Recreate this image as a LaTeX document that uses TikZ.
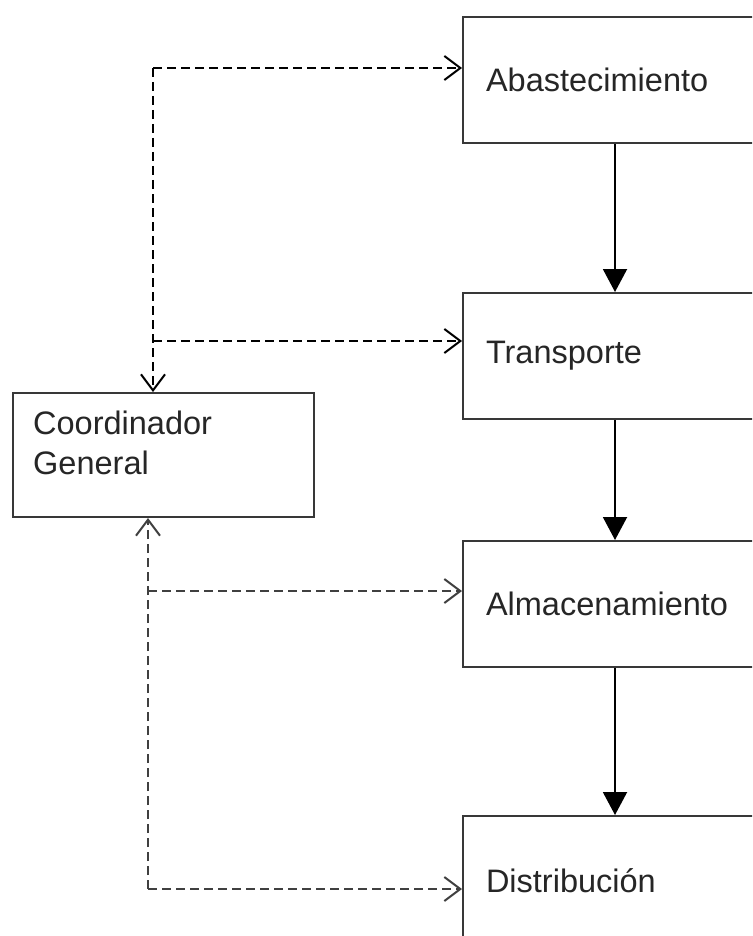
\documentclass[tikz,border=0pt]{standalone}
\usepackage{fontspec}
\setmainfont{Liberation Sans}
\usetikzlibrary{arrows.meta}

\begin{document}
\begin{tikzpicture}[x=1pt,y=-1pt,
  caja/.style={draw=black!78, line width=2pt, fill=white, anchor=north west,
    minimum width=340pt, minimum height=126pt, inner xsep=23pt,
    text width=294pt, align=left, text=black!85,
    font=\fontsize{32.5}{40}\selectfont},
  flecha/.style={draw=black, line width=2pt, -{Triangle[length=23pt,width=24pt]}},
  enlace/.style={line width=2.8pt, dash pattern=on 9pt off 5pt,
    -{Straight Barb[length=16pt,width=24pt,line width=2pt]}}]
\useasboundingbox (0,0) rectangle (752,936);
\clip (0,0) rectangle (752,936);
\node[caja] (abast) at (462,16) {Abastecimiento};
\node[caja] (trans) at (462,292) {Transporte};
\node[caja] (alm) at (462,540) {Almacenamiento};
\node[caja, minimum height=130pt] (dist) at (462,815) {Distribución};
\node[caja, minimum width=301pt, minimum height=124pt, text width=255pt] (coord) at (12,392) {};
\node[anchor=north west, inner sep=0pt, align=left, text=black!85,
  font=\fontsize{32.5}{40}\selectfont] (coordtxt) at (33,411) {Coordinador\\General};
\draw[flecha] (abast.south -| 615,0) -- (trans.north -| 615,0);
\draw[flecha] (trans.south -| 615,0) -- (alm.north -| 615,0);
\draw[flecha] (alm.south -| 615,0) -- (dist.north -| 615,0);
\coordinate (c1) at (153,68);
\coordinate (c2) at (153,341);
\coordinate (c3) at (148,591);
\coordinate (c4) at (148,889);
\draw[enlace, black] (c1) -- (abast.west |- c1);
\draw[enlace, black] (c2) -- (trans.west |- c2);
\draw[enlace, black] (c1) -- (c1 |- coord.north);
\draw[enlace, black!75] (c3) -- (alm.west |- c3);
\draw[enlace, black!75] (c4) -- (dist.west |- c4);
\draw[enlace, black!75] (c4) -- (c4 |- coord.south);
\end{tikzpicture}
\end{document}
